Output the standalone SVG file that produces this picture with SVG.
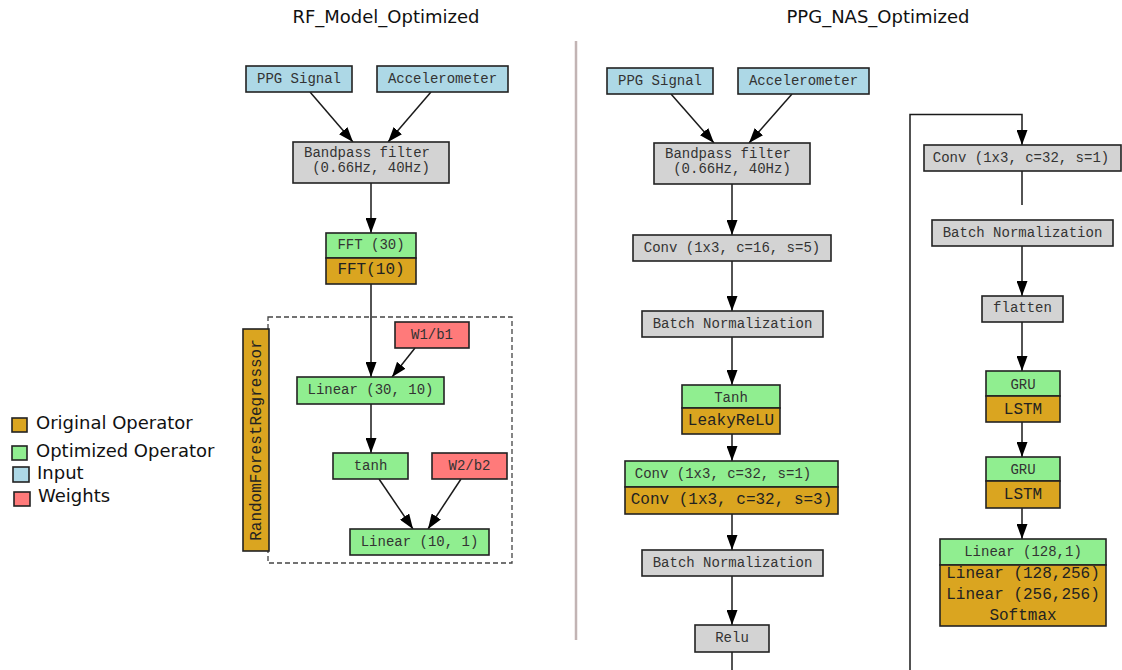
<svg xmlns="http://www.w3.org/2000/svg" width="1122" height="670" viewBox="0 0 1122 670">
<style>
  .t{font-family:"DejaVu Sans","Noto Sans",sans-serif;font-size:18px;fill:#111}
  .m{font-family:"Liberation Mono","Courier New",monospace;font-size:14px;fill:#333;text-anchor:middle}
  .o{font-family:"Liberation Mono","Courier New",monospace;font-size:16px;fill:#222;text-anchor:middle}
  .b{stroke:#222;stroke-width:1.6}
  .in{fill:#add8e6}
  .gr{fill:#d3d3d3}
  .gn{fill:#90ee90}
  .or{fill:#daa520}
  .w{fill:#ff7a7a}
  .c{fill:none;stroke:#1a1a1a;stroke-width:1.5}
  .lg{font-family:"DejaVu Sans","Noto Sans",sans-serif;font-size:18px;fill:#111}
</style>
<defs>
  <marker id="ah" markerUnits="userSpaceOnUse" markerWidth="15" markerHeight="11" refX="15" refY="5.5" orient="auto">
    <path d="M0,0 L15,5.5 L0,11 z" fill="#000"/>
  </marker>
</defs>
<rect width="1122" height="670" fill="#fff"/>

<text class="t" x="386" y="23" text-anchor="middle">RF_Model_Optimized</text>
<text class="t" x="878" y="23" text-anchor="middle">PPG_NAS_Optimized</text>
<line x1="576" y1="41" x2="576" y2="640" stroke="#c2b4b4" stroke-width="2.5"/>

<g id="legend">
  <rect x="12" y="418" width="15" height="14" class="or b" stroke-width="1.2"/>
  <text class="lg" x="36" y="429">Original Operator</text>
  <rect x="12" y="446" width="15" height="14" class="gn b" stroke-width="1.2"/>
  <text class="lg" x="36" y="457">Optimized Operator</text>
  <rect x="13" y="467" width="16" height="15" class="in b" stroke-width="1.2"/>
  <text class="lg" x="37" y="479">Input</text>
  <rect x="14" y="492" width="16" height="14" class="w b" stroke-width="1.2"/>
  <text class="lg" x="38" y="502">Weights</text>
</g>

<g id="connectors">
  <path class="c" d="M310,92 L353,142" marker-end="url(#ah)"/>
  <path class="c" d="M431,92 L388,142" marker-end="url(#ah)"/>
  <path class="c" d="M371,183 L371,233" marker-end="url(#ah)"/>
  <path class="c" d="M371,284 L371,377" marker-end="url(#ah)"/>
  <path class="c" d="M415,348 L392,377" marker-end="url(#ah)"/>
  <path class="c" d="M371,404 L371,453" marker-end="url(#ah)"/>
  <path class="c" d="M379,479 L413,529" marker-end="url(#ah)"/>
  <path class="c" d="M461,479 L428,529" marker-end="url(#ah)"/>

  <path class="c" d="M671,94 L714,143" marker-end="url(#ah)"/>
  <path class="c" d="M792,94 L749,143" marker-end="url(#ah)"/>
  <path class="c" d="M732,184 L732,235" marker-end="url(#ah)"/>
  <path class="c" d="M732,261 L732,311" marker-end="url(#ah)"/>
  <path class="c" d="M732,337 L732,385" marker-end="url(#ah)"/>
  <path class="c" d="M732,434 L732,461" marker-end="url(#ah)"/>
  <path class="c" d="M732,514 L732,550" marker-end="url(#ah)"/>
  <path class="c" d="M732,576 L732,625" marker-end="url(#ah)"/>
  <path class="c" d="M732,652 L732,670"/>
  <path class="c" d="M910,670 L910,114.5 L1022,114.5 L1022,145" marker-end="url(#ah)"/>
  <path class="c" d="M1022,171 L1022,205"/>
  <path class="c" d="M1022,246 L1022,296" marker-end="url(#ah)"/>
  <path class="c" d="M1022,322 L1022,371" marker-end="url(#ah)"/>
  <path class="c" d="M1022,422 L1022,457" marker-end="url(#ah)"/>
  <path class="c" d="M1022,508 L1022,539" marker-end="url(#ah)"/>
</g>

<g id="rf-cluster">
  <rect x="268" y="317" width="244" height="246" fill="none" stroke="#444" stroke-width="1.3" stroke-dasharray="5,3"/>
</g>
<g id="rf-randomforest">
  <rect x="243" y="329" width="26" height="222" class="or b"/>
  <text class="o" transform="translate(261,440) rotate(-90)" x="0" y="0">RandomForestRegressor</text>
</g>

<g id="rf-ppg"><rect x="246" y="66" width="106" height="26" class="in b"/><text class="m" x="299" y="83">PPG Signal</text></g>
<g id="rf-acc"><rect x="377" y="66" width="131" height="26" class="in b"/><text class="m" x="442.5" y="83">Accelerometer</text></g>
<g id="rf-bandpass"><rect x="293" y="142" width="156" height="41" class="gr b"/><text class="m" x="367" y="157">Bandpass filter</text><text class="m" x="371" y="172">(0.66Hz, 40Hz)</text></g>
<g id="rf-fft"><rect x="326" y="233" width="90" height="25" class="gn b"/><text class="m" x="371" y="249">FFT (30)</text><rect x="326" y="258" width="90" height="26" class="or b"/><text class="o" x="371" y="274">FFT(10)</text></g>
<g id="rf-w1"><rect x="395" y="322" width="74" height="26" class="w b"/><text class="m" x="432" y="339">W1/b1</text></g>
<g id="rf-linear1"><rect x="297" y="377" width="147" height="27" class="gn b"/><text class="m" x="370.5" y="394">Linear (30, 10)</text></g>
<g id="rf-tanh"><rect x="333" y="453" width="75" height="26" class="gn b"/><text class="m" x="370.5" y="470">tanh</text></g>
<g id="rf-w2"><rect x="432" y="453" width="75" height="26" class="w b"/><text class="m" x="469.5" y="470">W2/b2</text></g>
<g id="rf-linear2"><rect x="350" y="529" width="139" height="26" class="gn b"/><text class="m" x="419.5" y="546">Linear (10, 1)</text></g>

<g id="nas-ppg"><rect x="607" y="68" width="106" height="26" class="in b"/><text class="m" x="660" y="85">PPG Signal</text></g>
<g id="nas-acc"><rect x="738" y="68" width="131" height="26" class="in b"/><text class="m" x="803.5" y="85">Accelerometer</text></g>
<g id="nas-bandpass"><rect x="654" y="143" width="156" height="41" class="gr b"/><text class="m" x="728" y="158">Bandpass filter</text><text class="m" x="732" y="173">(0.66Hz, 40Hz)</text></g>
<g id="nas-conv1"><rect x="633" y="235" width="198" height="26" class="gr b"/><text class="m" x="732" y="252">Conv (1x3, c=16, s=5)</text></g>
<g id="nas-bn1"><rect x="642" y="311" width="181" height="26" class="gr b"/><text class="m" x="732.5" y="328">Batch Normalization</text></g>
<g id="nas-act"><rect x="682" y="385" width="98" height="23" class="gn b"/><text class="m" x="731" y="402">Tanh</text><rect x="682" y="408" width="98" height="26" class="or b"/><text class="o" x="731" y="425">LeakyReLU</text></g>
<g id="nas-conv2"><rect x="625" y="461" width="213" height="26" class="gn b"/><text class="m" x="723" y="478">Conv (1x3, c=32, s=1)</text><rect x="625" y="487" width="213" height="27" class="or b"/><text class="o" x="731.5" y="504">Conv (1x3, c=32, s=3)</text></g>
<g id="nas-bn2"><rect x="642" y="550" width="181" height="26" class="gr b"/><text class="m" x="732.5" y="567">Batch Normalization</text></g>
<g id="nas-relu"><rect x="695" y="625" width="74" height="27" class="gr b"/><text class="m" x="732" y="642">Relu</text></g>

<g id="nas-conv3"><rect x="924" y="145" width="197" height="26" class="gr b"/><text class="m" x="1021" y="162">Conv (1x3, c=32, s=1)</text></g>
<g id="nas-bn3"><rect x="932" y="220" width="181" height="26" class="gr b"/><text class="m" x="1022.5" y="237">Batch Normalization</text></g>
<g id="nas-flatten"><rect x="982" y="296" width="81" height="26" class="gr b"/><text class="m" x="1022.5" y="312">flatten</text></g>
<g id="nas-rnn1"><rect x="986" y="371" width="74" height="25" class="gn b"/><text class="m" x="1023" y="388.5">GRU</text><rect x="986" y="396" width="74" height="26" class="or b"/><text class="o" x="1023" y="413.5">LSTM</text></g>
<g id="nas-rnn2"><rect x="986" y="457" width="74" height="24" class="gn b"/><text class="m" x="1023" y="474">GRU</text><rect x="986" y="481" width="74" height="27" class="or b"/><text class="o" x="1023" y="499">LSTM</text></g>
<g id="nas-linear"><rect x="940" y="539" width="166" height="26" class="gn b"/><text class="m" x="1023" y="556">Linear (128,1)</text><rect x="940" y="565" width="166" height="61" class="or b"/><text class="o" x="1023" y="578">Linear (128,256)</text><text class="o" x="1023" y="599">Linear (256,256)</text><text class="o" x="1023" y="620">Softmax</text></g>
</svg>
